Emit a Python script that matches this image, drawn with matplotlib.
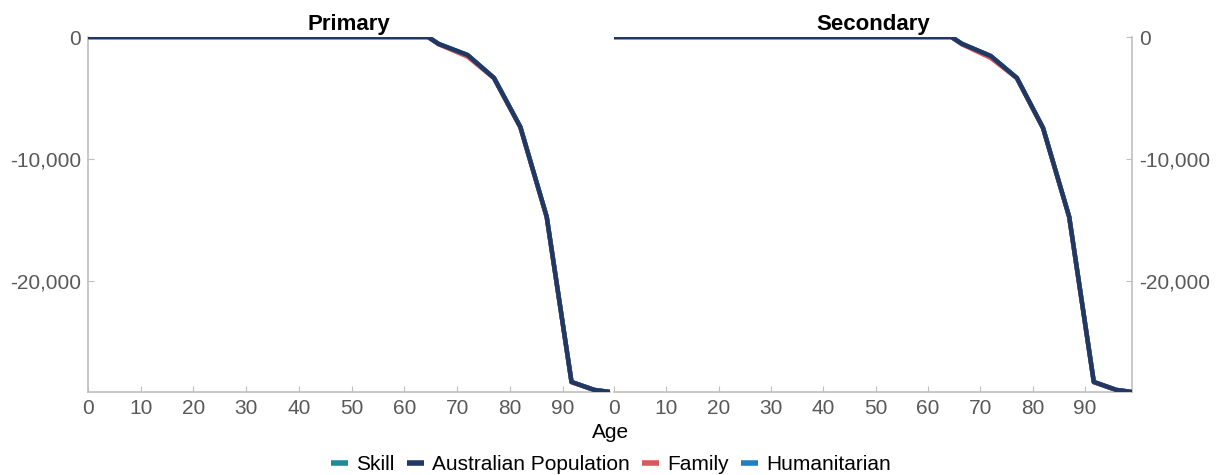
import numpy as np
import matplotlib.pyplot as plt

plt.rcParams['font.family'] = ['Liberation Sans', 'DejaVu Sans']

# age points (years) and cumulative values
age = [0, 64.5, 66.5, 72, 77, 82, 87, 91.7, 96, 99]

primary_aus = [0, 0, -570, -1480, -3360, -7380, -14750, -28280, -28930, -29100]
primary_skill = [0, 0, -560, -1470, -3350, -7370, -14740, -28270, -28920, -29100]
primary_family = [0, 0, -590, -1620, -3380, -7400, -14760, -28290, -28940, -29100]
primary_human = [0, 0, -580, -1500, -3370, -7390, -14750, -28280, -28930, -29100]

secondary_aus = [0, 0, -560, -1560, -3360, -7460, -14750, -28280, -28930, -29100]
secondary_skill = [0, 0, -550, -1550, -3350, -7450, -14740, -28270, -28920, -29100]
secondary_family = [0, 0, -600, -1720, -3380, -7470, -14760, -28290, -28940, -29100]
secondary_human = [0, 0, -570, -1570, -3370, -7460, -14750, -28280, -28930, -29100]

panels = ['Primary', 'Secondary']
series_names = ['Skill', 'Australian Population', 'Family', 'Humanitarian']
colors = ['#1b8c9c', '#1f3864', '#d9585c', '#1f7fc4']
x_ticks = [0, 10, 20, 30, 40, 50, 60, 70, 80, 90]
y_ticks = [0, -10000, -20000]

data = {
    'Primary': [primary_skill, primary_aus, primary_family, primary_human],
    'Secondary': [secondary_skill, secondary_aus, secondary_family, secondary_human],
}

fig = plt.figure(figsize=(12.19, 4.75), dpi=100)
ax_l = fig.add_axes([88 / 1219, 1 - 392 / 475, 522 / 1219, 355 / 475])
ax_r = fig.add_axes([614 / 1219, 1 - 392 / 475, 518 / 1219, 355 / 475])

zorders = [2, 5, 3, 2.5]
grey = '#bfbfbf'
txt = '#595959'
fs = 15

for ax, name in zip([ax_l, ax_r], panels):
    for vals, lab, c, z in zip(data[name], series_names, colors, zorders):
        ax.plot(age, vals, color=c, lw=3.2, label=lab, zorder=z, solid_capstyle='butt')
    ax.set_xlim(0, 99)
    ax.set_ylim(-29100, 0)
    ax.set_xticks(x_ticks)
    ax.set_yticks(y_ticks)
    ax.set_yticklabels(['0', '-10,000', '-20,000'])
    ax.set_title(name, fontsize=16, fontweight='bold', pad=5)
    ax.spines['top'].set_visible(False)
    for s in ax.spines.values():
        s.set_color(grey)
        s.set_linewidth(1.2)
    ax.tick_params(axis='both', direction='in', color=grey, labelcolor=txt,
                   labelsize=fs, length=4, pad=5)

ax_l.spines['right'].set_visible(False)
ax_r.spines['left'].set_visible(False)
ax_r.yaxis.tick_right()
ax_r.tick_params(axis='y', direction='in', color=grey, labelcolor=txt, labelsize=fs, length=4)

fig.text(611 / 1219, 1 - 432 / 475, 'Age', ha='center', va='center', fontsize=fs, color='black')

handles, labels = ax_l.get_legend_handles_labels()
fig.legend(handles, labels, loc='center', bbox_to_anchor=(611 / 1219, 1 - 465 / 475),
           ncol=4, frameon=False, fontsize=fs, handlelength=0.8, handletextpad=0.4,
           columnspacing=0.6, borderaxespad=0)
for h in fig.legends[0].legend_handles:
    h.set_linewidth(4)

fig.savefig('out.png', dpi=100)
